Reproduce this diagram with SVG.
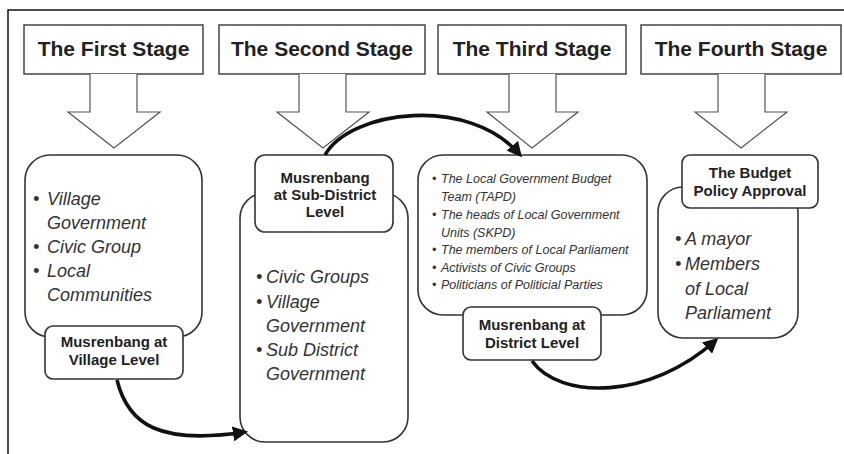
<svg xmlns="http://www.w3.org/2000/svg" width="844" height="454" viewBox="0 0 844 454">
<defs>
<style>
.stage{fill:#fff;stroke:#444;stroke-width:1.5}
.stxt{font-family:"Liberation Sans",Arial,sans-serif;font-weight:bold;font-size:21px;fill:#222;text-anchor:middle}
.harrow{fill:#fff;stroke:#555;stroke-width:1.2}
.box{fill:#fff;stroke:#333;stroke-width:1.6}
.lbl{font-family:"Liberation Sans",Arial,sans-serif;font-weight:bold;font-size:15px;fill:#222;text-anchor:middle}
.it{font-family:"Liberation Sans",Arial,sans-serif;font-style:italic;font-size:18px;fill:#333}
.its{font-family:"Liberation Sans",Arial,sans-serif;font-style:italic;font-size:12.5px;fill:#333}
.conn{fill:none;stroke:#111;stroke-width:3.6}
</style>
<marker id="ah" viewBox="0 0 10 10" refX="8" refY="5" markerWidth="4.2" markerHeight="4.2" orient="auto" markerUnits="strokeWidth">
<path d="M0,0 L10,5 L0,10 z" fill="#111"/>
</marker>
</defs>
<rect width="844" height="454" fill="#fff"/>
<path d="M8,454 L8,10 L844,10" fill="none" stroke="#111" stroke-width="1.5"/>

<g id="stage1">
<rect class="stage" x="24" y="25" width="179" height="49"/>
<text class="stxt" x="113.5" y="56">The First Stage</text>
<path class="harrow" d="M90,74 L90,112 L68,112 L114,148 L160,112 L137,112 L137,74"/>
</g>
<g id="stage2">
<rect class="stage" x="219" y="25" width="206" height="49"/>
<text class="stxt" x="322" y="56">The Second Stage</text>
<path class="harrow" d="M299,74 L299,112 L277,112 L323,148 L369,112 L346,112 L346,74"/>
</g>
<g id="stage3">
<rect class="stage" x="438" y="25" width="188" height="49"/>
<text class="stxt" x="532" y="56">The Third Stage</text>
<path class="harrow" d="M509,74 L509,112 L487,112 L532,148 L578,112 L556,112 L556,74"/>
</g>
<g id="stage4">
<rect class="stage" x="641" y="25" width="200" height="49"/>
<text class="stxt" x="741" y="56">The Fourth Stage</text>
<path class="harrow" d="M718,74 L718,112 L695,112 L741,148 L787,112 L765,112 L765,74"/>
</g>

<g id="node1">
<rect class="box" x="25" y="155" width="177" height="182" rx="25"/>
<text class="it" x="33" y="205">•</text>
<text class="it" x="47" y="205">Village</text>
<text class="it" x="47" y="229">Government</text>
<text class="it" x="33" y="253">•</text>
<text class="it" x="47" y="253">Civic Group</text>
<text class="it" x="33" y="277">•</text>
<text class="it" x="47" y="277">Local</text>
<text class="it" x="47" y="301">Communities</text>
<rect class="box" x="45" y="326" width="138" height="53" rx="8"/>
<text class="lbl" x="114" y="347">Musrenbang at</text>
<text class="lbl" x="114" y="365">Village Level</text>
</g>

<g id="node2">
<rect class="box" x="240" y="193" width="168" height="249" rx="25"/>
<text class="it" x="256" y="283">•</text>
<text class="it" x="266" y="283">Civic Groups</text>
<text class="it" x="256" y="308">•</text>
<text class="it" x="266" y="308">Village</text>
<text class="it" x="266" y="332">Government</text>
<text class="it" x="256" y="356">•</text>
<text class="it" x="266" y="356">Sub District</text>
<text class="it" x="266" y="380">Government</text>
<rect class="box" x="255" y="155" width="138" height="77" rx="10"/>
<text class="lbl" x="325" y="183">Musrenbang</text>
<text class="lbl" x="325" y="200">at Sub-District</text>
<text class="lbl" x="325" y="217">Level</text>
</g>

<g id="node3">
<rect class="box" x="418" y="155" width="229" height="160" rx="25"/>
<text class="its" x="432" y="183">•</text>
<text class="its" x="441" y="183">The Local Government Budget</text>
<text class="its" x="441" y="201">Team (TAPD)</text>
<text class="its" x="432" y="219">•</text>
<text class="its" x="441" y="219">The heads of Local Government</text>
<text class="its" x="441" y="237">Units (SKPD)</text>
<text class="its" x="432" y="254">•</text>
<text class="its" x="441" y="254">The members of Local Parliament</text>
<text class="its" x="432" y="272">•</text>
<text class="its" x="441" y="272">Activists of Civic Groups</text>
<text class="its" x="432" y="289">•</text>
<text class="its" x="441" y="289">Politicians of Politicial Parties</text>
<rect class="box" x="463" y="307" width="138" height="53" rx="8"/>
<text class="lbl" x="532" y="330">Musrenbang at</text>
<text class="lbl" x="532" y="348">District Level</text>
</g>

<g id="node4">
<rect class="box" x="658" y="187" width="140" height="151" rx="25"/>
<text class="it" x="675" y="245">•</text>
<text class="it" x="685" y="245">A mayor</text>
<text class="it" x="675" y="270">•</text>
<text class="it" x="685" y="270">Members</text>
<text class="it" x="685" y="295">of Local</text>
<text class="it" x="685" y="319">Parliament</text>
<rect class="box" x="682" y="155" width="136" height="53" rx="8"/>
<text class="lbl" x="750" y="178">The Budget</text>
<text class="lbl" x="750" y="196">Policy Approval</text>
</g>

<g id="connectors">
<path class="conn" marker-end="url(#ah)" d="M117,380 C128,425 160,445 245,432"/>
<path class="conn" marker-end="url(#ah)" d="M325,155 C350,110 470,95 520,155"/>
<path class="conn" marker-end="url(#ah)" d="M532,361 C560,400 650,400 716,340"/>
</g>
</svg>
